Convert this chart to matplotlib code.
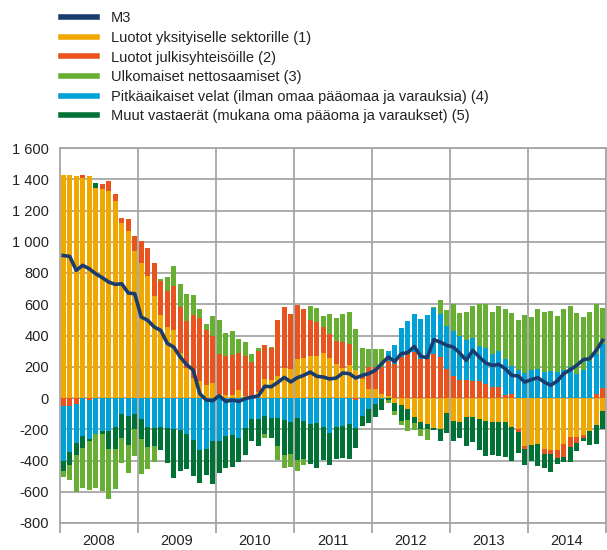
import numpy as np
import matplotlib
matplotlib.use('Agg')
import matplotlib.pyplot as plt
from matplotlib.lines import Line2D
from matplotlib.ticker import FuncFormatter

plt.rcParams['font.family'] = ['Liberation Sans', 'DejaVu Sans']

years = ["2008", "2009", "2010", "2011", "2012", "2013", "2014"]

# monthly values, Jan 2008 - Dec 2014
m3 = [912, 906, 817, 849, 827, 795, 770, 742, 727, 731, 672, 667,
      518, 497, 454, 433, 350, 326, 262, 213, 178, 28, -13, -17,
      15, -22, -13, -22, -4, 6, 13, 75, 72, 100, 132, 103,
      130, 145, 166, 139, 134, 122, 128, 160, 156, 128, 145, 156,
      177, 220, 262, 234, 284, 290, 330, 267, 258, 373, 358, 337,
      326, 288, 241, 305, 262, 224, 209, 215, 188, 145, 141, 102,
      117, 130, 102, 81, 109, 156, 181, 209, 245, 252, 305, 369]

luotot_yks = [1426, 1426, 1418, 1411, 1418, 1347, 1335, 1328, 1258, 1117, 1072, 938,
              861, 778, 652, 529, 455, 433, 285, 195, 130, 110, 82, 95,
              28, 21, 17, 49, 11, 6, 40, 119, 113, 139, 194, 188,
              247, 254, 267, 267, 286, 254, 215, 190, 210, 180, 120, 60,
              60, 23, 10, -34, -47, -72, -124, -156, -168, -194, -200, -98,
              -149, -156, -124, -124, -136, -149, -156, -156, -156, -188, -200, -309,
              -303, -296, -328, -335, -335, -296, -252, -252, -239, -213, -175, -85]

luotot_julk = [-51, -51, -36, 15, -13, 0, 32, 58, 45, 32, 71, 96,
               147, 185, 209, 217, 227, 281, 295, 295, 399, 402, 355, 303,
               255, 248, 257, 238, 258, 224, 260, 218, 205, 358, 386, 347,
               346, 313, 230, 217, 166, 153, 147, 166, 133, -13, 15, 138,
               138, 175, 225, 217, 262, 284, 292, 247, 247, 281, 260, 183,
               141, 115, 115, 107, 107, 87, 68, 68, 17, 26, -17, -19,
               0, 0, -32, -26, -51, -83, -64, -38, -19, 0, 23, 62]

ulkomaiset = [-36, -96, -234, -254, -313, -348, -363, -320, -256, -158, -177, -173,
              -224, -140, -100, 13, 90, 128, 147, 173, 128, 57, 36, 126,
              216, 146, 154, 89, 87, 50, 19, -23, 6, -87, -81, -81,
              -68, -38, 91, 94, 70, 132, 148, 179, 205, 259, 183, 113,
              113, 113, -19, -28, -26, -70, -45, -45, -70, 6, 88, 100,
              177, 148, 179, 204, 269, 281, 269, 288, 320, 334, 318, 367,
              337, 384, 384, 383, 356, 388, 388, 386, 337, 311, 320, 230]

pitkaaik = [-354, -296, -252, -245, -251, -228, -213, -213, -188, -100, -117, -104,
            -136, -188, -192, -185, -192, -200, -207, -232, -271, -335, -328, -277,
            -277, -243, -239, -256, -192, -136, -134, -117, -126, -126, -143, -156,
            -130, -149, -164, -162, -188, -226, -188, -181, -168, -181, -117, -72,
            -40, -9, 63, 120, 184, 206, 243, 256, 282, 295, 277, 278,
            285, 279, 254, 275, 223, 231, 211, 230, 230, 182, 179, 162,
            179, 183, 166, 171, 166, 179, 198, 156, 179, 237, 256, 281]

muut = [-64, -83, -79, -77, -13, 32, -19, -115, -140, -158, -186, -96,
        -128, -128, -117, -150, -224, -311, -260, -220, -228, -207, -162, -271,
        -200, -205, -205, -154, -170, -139, -171, -115, -130, -181, -224, -205,
        -269, -243, -260, -286, -211, -203, -205, -203, -224, -126, -64, -90,
        -83, -70, -15, -49, -102, -70, -38, -45, -32, -13, -75, -128,
        -126, -102, -185, -160, -198, -224, -211, -218, -224, -215, -134, -98,
        -98, -139, -87, -113, -38, -30, -94, -51, -19, -90, -122, -115]

labels = ["M3",
          "Luotot yksityiselle sektorille (1)",
          "Luotot julkisyhteisöille (2)",
          "Ulkomaiset nettosaamiset (3)",
          "Pitkäaikaiset velat (ilman omaa pääomaa ja varauksia) (4)",
          "Muut vastaerät (mukana oma pääoma ja varaukset) (5)"]

c_m3 = '#1b3d6e'
c_yks = '#f0a800'
c_julk = '#e9531d'
c_ulk = '#67af32'
c_pitk = '#00a1d7'
c_muut = '#007236'

fig = plt.figure(figsize=(6.07, 5.5), dpi=100)
ax = fig.add_axes([60/607, 1 - 523/550, 546/607, 375/550])

x = np.arange(len(m3))
pos = np.zeros(len(m3))
neg = np.zeros(len(m3))
# stacking order of the series
for vals, col in [(luotot_yks, c_yks), (luotot_julk, c_julk), (pitkaaik, c_pitk),
                  (muut, c_muut), (ulkomaiset, c_ulk)]:
    v = np.array(vals, dtype=float)
    bottom = np.where(v >= 0, pos, neg)
    ax.bar(x, v, bottom=bottom, width=0.72, color=col, zorder=2, linewidth=0)
    pos = pos + np.where(v >= 0, v, 0)
    neg = neg + np.where(v < 0, v, 0)

ax.plot(x, m3, color=c_m3, lw=2.6, zorder=3, solid_joinstyle='round')

ax.set_xlim(-0.5, len(m3) - 0.5)
ax.set_ylim(-800, 1600)
ax.set_yticks(np.arange(-800, 1601, 200))
ax.yaxis.set_major_formatter(FuncFormatter(lambda v, p: format(int(v), ',').replace(',', ' ')))
ax.grid(axis='y', color='#a6a6a6', lw=1.3, zorder=0)

bounds = np.arange(-0.5, len(m3), 12)
ax.set_xticks(bounds)
ax.set_xticklabels([])
ax.set_xticks(np.arange(5.5, len(m3), 12), minor=True)
ax.set_xticklabels(years, minor=True)
for b in bounds[1:]:
    ax.axvline(b, color='#a6a6a6', lw=1.3, zorder=0)

ax.tick_params(axis='x', which='major', length=7, color='#a6a6a6', width=1.3)
ax.tick_params(axis='x', which='minor', length=0, pad=8, labelsize=10.5, colors='#222222')
ax.tick_params(axis='y', length=0, pad=8, labelsize=10.5, colors='#222222')
for s in ax.spines.values():
    s.set_color('#a6a6a6')
    s.set_linewidth(1.3)

handles = [Line2D([], [], color=c, lw=4) for c in [c_m3, c_yks, c_julk, c_ulk, c_pitk, c_muut]]
fig.legend(handles, labels, loc='upper left', bbox_to_anchor=(61/607, 1 - 11.5/550),
           frameon=False, borderpad=0, borderaxespad=0, handlelength=2.5,
           handletextpad=0.9, labelspacing=0.38, fontsize=10.5, labelcolor='#222222')

fig.savefig('out.png', dpi=100)
